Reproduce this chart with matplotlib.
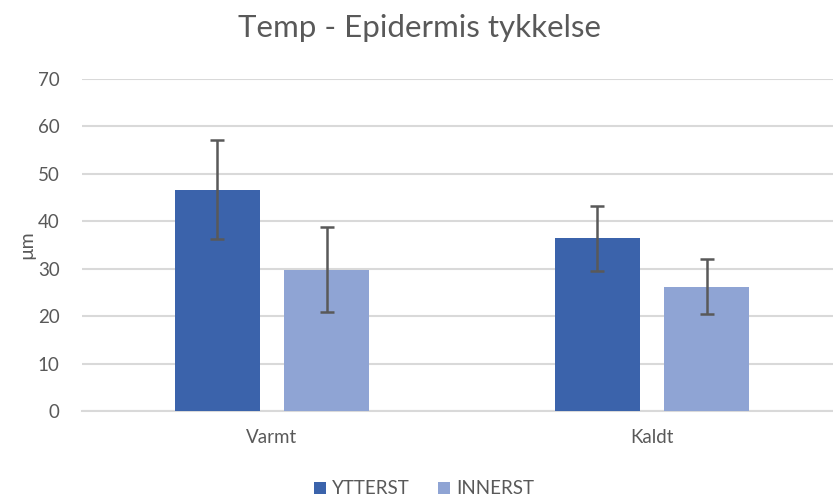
import numpy as np
import matplotlib
matplotlib.use("Agg")
import matplotlib.pyplot as plt

plt.rcParams['font.family'] = ['Lato', 'DejaVu Sans']

categories = ['Varmt', 'Kaldt']
series = ['YTTERST', 'INNERST']
ytterst = [46.7, 36.4]
ytterst_err = [10.5, 6.8]
innerst = [29.8, 26.2]
innerst_err = [8.9, 5.8]

colors = ['#3B63AB', '#8FA4D4']
grey = '#595959'

fig = plt.figure(figsize=(8.33, 4.97), dpi=100)
ax = fig.add_axes([82 / 833, 86 / 497, 1 - 82 / 833, (411 - 79) / 497])

x = np.arange(len(categories))
w = 0.224
off = 0.1435
ax.bar(x - off, ytterst, w, color=colors[0], label=series[0], zorder=3,
       yerr=ytterst_err, error_kw=dict(ecolor=grey, elinewidth=1.8, capsize=5, capthick=1.8))
ax.bar(x + off, innerst, w, color=colors[1], label=series[1], zorder=3,
       yerr=innerst_err, error_kw=dict(ecolor=grey, elinewidth=1.8, capsize=5, capthick=1.8))

ax.set_xlim(-0.5, (833 - 82) / 380 - 0.5)
ax.set_ylim(0, 70)
ax.set_yticks(np.arange(0, 71, 10))
ax.set_xticks(x)
ax.set_xticklabels(categories)
ax.yaxis.grid(True, color='#D9D9D9', linewidth=1.5, zorder=0)
ax.set_axisbelow(True)
for s in ['top', 'right', 'left']:
    ax.spines[s].set_visible(False)
ax.spines['bottom'].set_color('#D9D9D9')
ax.spines['bottom'].set_linewidth(1.5)
ax.tick_params(axis='both', length=0, labelsize=13.5, colors=grey)
ax.tick_params(axis='y', pad=16)
ax.tick_params(axis='x', pad=13)

ax.set_ylabel('µm', fontsize=14, color=grey, labelpad=2)
fig.text(420 / 833, 1 - 28 / 497, 'Temp - Epidermis tykkelse', fontsize=22.5,
         color=grey, ha='center', va='center')

leg = fig.legend(loc='center', bbox_to_anchor=(424 / 833, 1 - 489 / 497), ncol=2,
                 frameon=False, fontsize=13.5, handlelength=0.65, handleheight=0.65,
                 columnspacing=1.5, handletextpad=0.3)
for t in leg.get_texts():
    t.set_color(grey)

fig.savefig('out.png', dpi=100)
